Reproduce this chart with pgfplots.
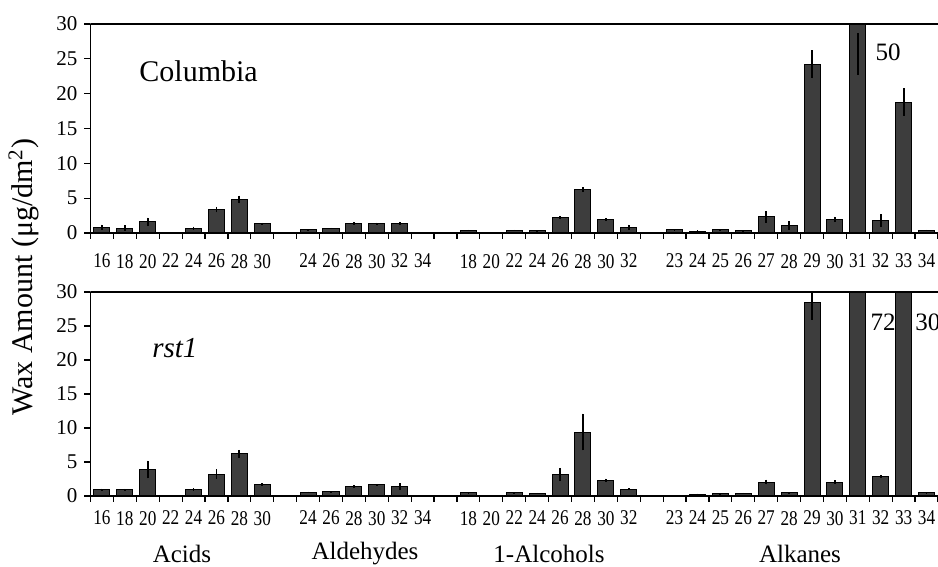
\documentclass[border=0pt]{standalone}
\usepackage{fontspec}
\setmainfont{Liberation Serif}
\newfontfamily\ticknarrow[FakeStretch=0.82]{Liberation Serif}
\usepackage{pgfplots}
\usepackage{pgfplotstable}
\pgfplotsset{compat=1.18}

\pgfplotstableread{
x y e
0 0.85 0.35
1 0.68 0.4
2 1.6 0.6
3 0.05 0
4 0.68 0.25
5 3.35 0.4
6 4.8 0.55
7 1.3 0.15
9 0.45 0.1
10 0.65 0.1
11 1.4 0.2
12 1.35 0.15
13 1.4 0.2
14 0.05 0
16 0.4 0.05
17 0.05 0
18 0.4 0.05
19 0.3 0.05
20 2.2 0.25
21 6.2 0.35
22 1.9 0.2
23 0.8 0.4
25 0.45 0.1
26 0.2 0.2
27 0.45 0.1
28 0.35 0.05
29 2.3 0.85
30 1.05 0.6
31 24.2 2.0
32 1.95 0.4
33 50 0
34 1.8 0.9
35 18.8 2.0
36 0.4 0.05
}\topdata

\pgfplotstableread{
x y e
0 0.9 0.2
1 0.9 0.15
2 3.9 1.3
3 0.1 0
4 0.95 0.2
5 3.2 0.7
6 6.2 0.6
7 1.65 0.2
9 0.55 0.1
10 0.6 0.1
11 1.4 0.25
12 1.65 0.1
13 1.4 0.45
14 0.05 0
16 0.45 0.05
17 0.05 0
18 0.45 0.05
19 0.4 0.05
20 3.2 0.95
21 9.4 2.7
22 2.3 0.25
23 1.0 0.15
25 0.05 0
26 0.25 0.1
27 0.35 0.05
28 0.4 0.05
29 2.05 0.35
30 0.45 0.05
31 28.5 2.6
32 2.05 0.25
33 72 0
34 2.9 0.2
35 30.5 0
36 0.45 0.05
}\botdata

\pgfplotsset{
  panel/.style={
    scale only axis, width=423.75pt,
    xmin=-0.5, xmax=36.5, ymin=0, ymax=30,
    axis lines=left, axis line style={-, line width=0.8pt},
    ytick={0,5,...,30},
    xtick={0,...,36},
    xticklabels={16,18,20,22,24,26,28,30,,24,26,28,30,32,34,,18,20,22,24,26,28,30,32,,23,24,25,26,27,28,29,30,31,32,33,34},
    minor xtick={-0.5,0.5,...,36.5},
    major x tick style={draw=none},
    minor x tick style={black, line width=0.6pt},
    y tick style={black, line width=0.6pt},
    tick align=outside,
    major tick length=3pt, minor tick length=3pt,
    yticklabel style={font=\fontsize{10.5}{12}\selectfont},
    xticklabel style={font=\ticknarrow\fontsize{10.5}{12}\selectfont, yshift=-1pt},
    /pgf/number format/assume math mode=true,
  },
  bars/.style={ybar, bar width=0.7, fill=black!76, draw=black, line width=0.5pt,
    error bars/.cd, y dir=both, y explicit,
    error bar style={line width=0.9pt, black}, error mark=none},
}

\begin{document}
\begin{tikzpicture}
\begin{axis}[panel, at={(45.25pt,271.5pt)}, anchor=north west, height=104.5pt,
  xticklabel style={yshift=-3pt}]
\addplot[bars] table[x=x, y=y, y error=e] {\topdata};
\addplot[black, line width=0.9pt, mark=none] coordinates {(33,22.7) (33,28.7)};
\draw[line width=0.8pt] (rel axis cs:0,1) -- (rel axis cs:1,1);
\node[anchor=west, inner sep=0pt, font=\fontsize{15}{18}\selectfont] at (axis cs:1.62,23.2) {Columbia};
\node[anchor=west, inner sep=0pt, font=\fontsize{12.5}{15}\selectfont] at (axis cs:33.76,26.0) {50};
\end{axis}
\begin{axis}[panel, at={(45.25pt,137.5pt)}, anchor=north west, height=102pt]
\addplot[bars] table[x=x, y=y, y error=e] {\botdata};
\draw[line width=0.8pt] (rel axis cs:0,1) -- (rel axis cs:1,1);
\node[anchor=west, inner sep=0pt, font=\fontsize{14.5}{18}\selectfont\itshape] at (axis cs:2.18,21.8) {rst1};
\node[anchor=west, inner sep=0pt, font=\fontsize{12.5}{15}\selectfont] at (axis cs:33.54,25.6) {72};
\node[anchor=west, inner sep=0pt, font=\fontsize{12.5}{15}\selectfont] at (axis cs:35.5,25.6) {30};
\end{axis}
\node[font=\fontsize{12.5}{15}\selectfont] at (91pt,6.5pt) {Acids};
\node[font=\fontsize{12.5}{15}\selectfont] at (182.5pt,6.5pt) {Aldehydes};
\node[font=\fontsize{12.5}{15}\selectfont] at (274.5pt,6.5pt) {1-Alcohols};
\node[font=\fontsize{12.5}{15}\selectfont] at (400pt,6.5pt) {Alkanes};
\node[rotate=90, font=\fontsize{15}{18}\selectfont] at (12pt,145pt) {Wax Amount (μg/dm\textsuperscript{2})};
\pgfresetboundingbox
\path (0,0) rectangle (469pt,283.5pt);
\end{tikzpicture}
\end{document}
